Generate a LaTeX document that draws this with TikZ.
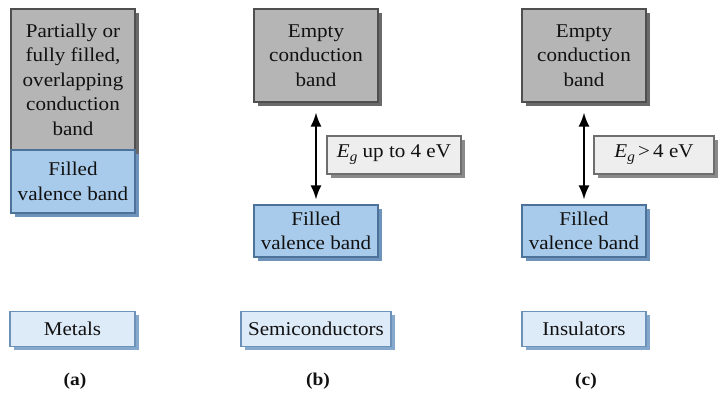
\documentclass[tikz,border=0pt]{standalone}
\usepackage{fontspec}
\setmainfont{Liberation Serif}[FakeStretch=1.08]
\usetikzlibrary{shadows,arrows.meta}
\definecolor{grayfill}{HTML}{B5B5B5}
\definecolor{grayline}{HTML}{4F4F4F}
\definecolor{grayshadow}{HTML}{6A6A6A}
\definecolor{bluefill}{HTML}{A9CBEB}
\definecolor{blueline}{HTML}{4C729A}
\definecolor{blueshadow}{HTML}{6E93BA}
\definecolor{egfill}{HTML}{EEEEEE}
\definecolor{egline}{HTML}{6E6E6E}
\definecolor{egshadow}{HTML}{8A8A8A}
\definecolor{labfill}{HTML}{DDEAF8}
\definecolor{labline}{HTML}{6C92BA}
\definecolor{labshadow}{HTML}{86A8CC}
\definecolor{ink}{HTML}{111111}
\tikzset{
  base/.style={rectangle, inner sep=0pt, align=center, text=ink, line width=1.1pt,
    font=\fontsize{19.5}{24.5}\selectfont},
  graybox/.style={base, fill=grayfill, draw=grayline,
    drop shadow={shadow xshift=3.5pt, shadow yshift=-3.5pt, fill=grayshadow, opacity=1}},
  bluebox/.style={base, fill=bluefill, draw=blueline,
    drop shadow={shadow xshift=3.5pt, shadow yshift=-3.5pt, fill=blueshadow, opacity=1}},
  egbox/.style={base, fill=egfill, draw=egline,
    drop shadow={shadow xshift=3.5pt, shadow yshift=-3.5pt, fill=egshadow, opacity=1}},
  labbox/.style={base, fill=labfill, draw=labline,
    drop shadow={shadow xshift=3.5pt, shadow yshift=-3.5pt, fill=labshadow, opacity=1}},
  caption/.style={text=ink, font=\fontsize{18}{20}\selectfont\bfseries},
  gap/.style={{Latex[length=14pt,width=11pt]}-{Latex[length=14pt,width=11pt]}, line width=2pt, draw=black},
}
\newcommand{\Eg}{\textit{E}\raisebox{-0.45ex}{\fontsize{14}{14}\selectfont\textit{g}}}
\begin{document}
\begin{tikzpicture}[x=1pt,y=-1pt]
\useasboundingbox (0,0) rectangle (718,394);
% (a) metals
\node[graybox, minimum width=124pt, minimum height=141pt] (ma) at (73,79.5)
  {Partially or\\fully filled,\\overlapping\\conduction\\band};
\node[bluebox, minimum width=124pt, minimum height=63pt] (mv) at (73,181.5)
  {Filled\\valence band};
% (b) semiconductors
\node[graybox, minimum width=124pt, minimum height=93pt] (sc) at (316,55.5)
  {Empty\\conduction\\band};
\node[bluebox, minimum width=124pt, minimum height=52pt] (sv) at (316,231)
  {Filled\\valence band};
\node[egbox, minimum width=134pt, minimum height=38pt] (se) at (394,155)
  {\Eg\ up to 4 eV};
\draw[gap] ([yshift=-10pt]sc.south) -- ([yshift=5pt]sv.north);
% (c) insulators
\node[graybox, minimum width=124pt, minimum height=93pt] (ic) at (584,55.5)
  {Empty\\conduction\\band};
\node[bluebox, minimum width=124pt, minimum height=52pt] (iv) at (584,231)
  {Filled\\valence band};
\node[egbox, minimum width=120pt, minimum height=38pt] (ie) at (654,155)
  {\Eg\,\char"003E\,4 eV};
\draw[gap] ([yshift=-10pt]ic.south) -- ([yshift=5pt]iv.north);
% bottom labels
\node[labbox, minimum width=125pt, minimum height=35pt] (lm) at (72.5,329) {Metals};
\node[labbox, minimum width=150pt, minimum height=35pt] (ls) at (316,329) {Semiconductors};
\node[labbox, minimum width=124pt, minimum height=35pt] (li) at (584,329) {Insulators};
\node[caption] (ca) at (75,381) {(a)};
\node[caption] (cb) at (318,381) {(b)};
\node[caption] (cc) at (586,381) {(c)};
\end{tikzpicture}
\end{document}
